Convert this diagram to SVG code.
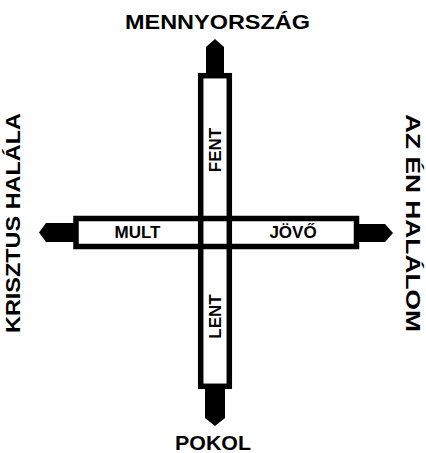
<svg xmlns="http://www.w3.org/2000/svg" width="426" height="453" viewBox="0 0 426 453">
<style>
.bar{fill:none;stroke:#000;stroke-width:5.5}
.tip{fill:#000;stroke:none}
.lbl{font-family:"Liberation Sans",Arial,sans-serif;font-weight:bold;font-size:21px;fill:#000;text-anchor:middle}
.in{font-family:"Liberation Sans",Arial,sans-serif;font-weight:bold;font-size:17px;fill:#000;text-anchor:middle}
</style>
<rect width="426" height="453" fill="#fff"/>
<g id="connectors">
<polygon class="tip" points="206,74 206,47 215,39 224,47 224,74"/>
<polygon class="tip" points="205,387 225,387 225,418 215,426 205,418"/>
<polygon class="tip" points="74,223 46,223 39,232.5 46,242 74,242"/>
<polygon class="tip" points="358,224 385,224 393,233 385,242 358,242"/>
</g>
<g id="vertical-bar">
<rect class="bar" x="200.7" y="75.7" width="28.6" height="310.6"/>
<text class="in" transform="translate(221,150) rotate(-90)">FENT</text>
<text class="in" transform="translate(220.5,316.5) rotate(-90)">LENT</text>
</g>
<g id="horizontal-bar">
<rect class="bar" x="76" y="218.5" width="280.5" height="28"/>
<text class="in" x="137.5" y="237.5">MULT</text>
<text class="in" x="293" y="237.5">JÖVŐ</text>
</g>
<g id="top"><text class="lbl" x="217.5" y="28.5" textLength="185" lengthAdjust="spacingAndGlyphs">MENNYORSZÁG</text></g>
<g id="bottom"><text class="lbl" x="213" y="450" textLength="76" lengthAdjust="spacingAndGlyphs">POKOL</text></g>
<g id="left"><text class="lbl" transform="translate(19.5,223) rotate(-90)" textLength="220" lengthAdjust="spacingAndGlyphs">KRISZTUS HALÁLA</text></g>
<g id="right"><text class="lbl" transform="translate(406,223) rotate(90)" textLength="218" lengthAdjust="spacingAndGlyphs">AZ ÉN HALÁLOM</text></g>
</svg>
